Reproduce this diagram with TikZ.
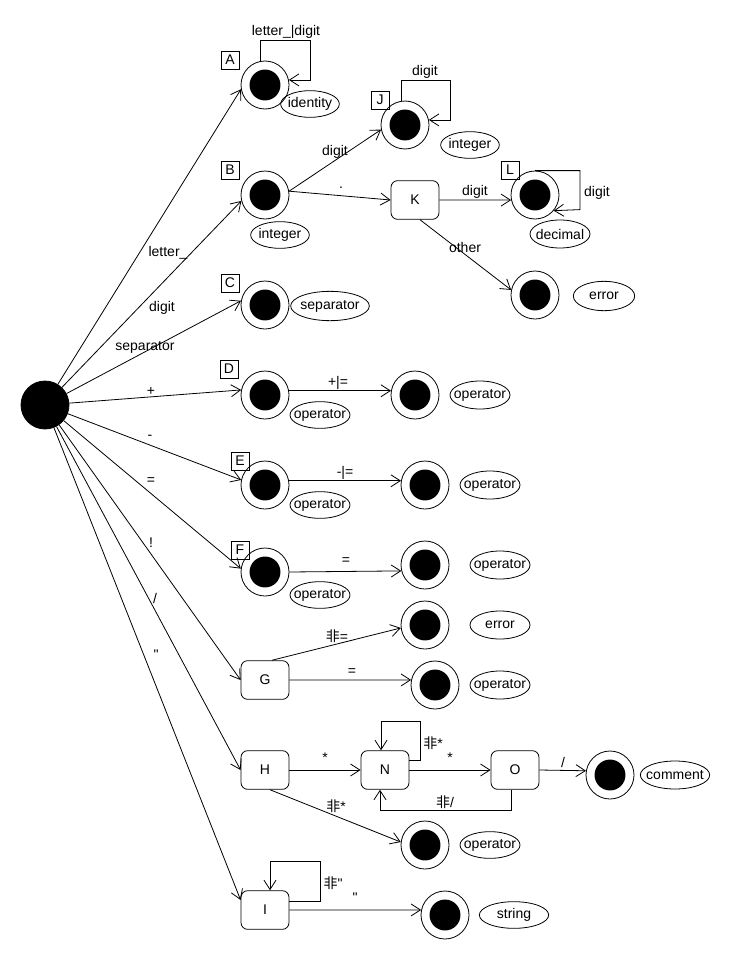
\documentclass[tikz,border=0pt]{standalone}
\usepackage{fontspec}
\setmainfont{Liberation Sans}[Ligatures=TeXOff]
\newfontfamily\cjk{Noto Sans CJK SC}
\usetikzlibrary{arrows.meta}
\usetikzlibrary{shapes.geometric}
\newcommand{\nt}[1]{\makebox[0pt]{#1}}
\newcommand{\fei}{{\cjk 非}}
\newcommand{\dq}{\symbol{34}}

\tikzset{
  start/.style={circle, fill=black, draw, inner sep=0pt, minimum size=36pt},
  final/.style={circle, draw, inner sep=0pt, minimum size=36pt,
    path picture={\fill[black] (path picture bounding box.center) circle (11.6pt);}},
  state/.style={draw, rounded corners=5pt, inner sep=0pt, minimum width=36pt, minimum height=29pt},
  tag/.style={draw, inner sep=0pt, minimum size=13.5pt},
  note/.style={ellipse, draw, inner sep=0pt, minimum width=45pt, minimum height=20pt},
  lbl/.style={inner sep=1pt},
  arr/.style={-{Straight Barb[length=7pt,width=9pt]}},
}

\begin{document}
\begin{tikzpicture}[x=0.75pt, y=-0.75pt, line width=0.6pt, font=\fontsize{10.5}{12}\selectfont]
      \useasboundingbox (0,0) rectangle (730,960);

      % start state
      \node[start] (s) at (45,405) {};

      % states
      \node[final] (A) at (265,85) {};
      \node[final] (B) at (265,195) {};
      \node[final] (C) at (265,305) {};
      \node[final] (D) at (265,395) {};
      \node[final] (E) at (265,485) {};
      \node[final] (F) at (265,572) {};
      \node[state] (G) at (265,680) {G};
      \node[state] (H) at (265,770) {H};
      \node[state] (I) at (265,910) {I};
      \node[final] (J) at (405,125) {};
      \node[state] (K) at (415,200) {K};
      \node[final] (L) at (535,195) {};
      \node[final] (err1) at (535,295) {};
      \node[final] (D2) at (415,395) {};
      \node[final] (E2) at (425,485) {};
      \node[final] (F2) at (425,565) {};
      \node[final] (err2) at (425,625) {};
      \node[final] (G2) at (435,685) {};
      \node[state] (N) at (385,770) {N};
      \node[state] (O) at (515,770) {O};
      \node[final] (cm) at (610,775) {};
      \node[final] (op3) at (425,845) {};
      \node[final] (str) at (445,915) {};

      % tags
      \node[tag] (tA) at (230,60) {A};
      \node[tag] (tB) at (230,170) {B};
      \node[tag] (tC) at (230,283) {C};
      \node[tag] (tD) at (229,369) {D};
      \node[tag] (tE) at (240,461) {E};
      \node[tag] (tF) at (240,550) {F};
      \node[tag] (tJ) at (380,100) {J};
      \node[tag] (tL) at (510,170) {L};

      % token notes
      \node[note, minimum width=44pt] (nA) at (310,104) {\nt{identity}};
      \node[note, minimum width=44pt] (nB) at (280,235) {\nt{integer}};
      \node[note, minimum width=59pt, minimum height=22pt] (nC) at (330,306) {\nt{separator}};
      \node[note, minimum width=44pt] (nJ) at (470,145) {\nt{integer}};
      \node[note, minimum width=45pt, minimum height=21pt] (nL) at (560,234) {\nt{decimal}};
      \node[note, minimum width=46pt, minimum height=22pt] (nerr1) at (604,296) {\nt{error}};
      \node[note] (nD) at (320,415) {\nt{operator}};
      \node[note, minimum height=21pt] (nD2) at (480,395) {\nt{operator}};
      \node[note] (nE) at (320,505) {\nt{operator}};
      \node[note, minimum height=21pt] (nE2) at (490,485) {\nt{operator}};
      \node[note] (nF) at (320,595) {\nt{operator}};
      \node[note, minimum height=21pt] (nF2) at (500,565) {\nt{operator}};
      \node[note, minimum height=21pt] (nerr2) at (500,625) {\nt{error}};
      \node[note, minimum height=21pt] (nG2) at (500,685) {\nt{operator}};
      \node[note, minimum width=52pt, minimum height=21pt] (ncm) at (675,775) {\nt{comment}};
      \node[note] (nop3) at (490,845) {\nt{operator}};
      \node[note, minimum width=52pt] (nstr) at (514,915) {\nt{string}};

      % edges from start
      \draw[arr] (s) -- (A.190);
      \draw[arr] (s) -- (B.194);
      \draw[arr] (s) -- (C.170);
      \draw[arr] (s) -- (D.168);
      \draw[arr] (s) -- (E.168);
      \draw[arr] (s) -- (F.172);
      \draw[arr] (s) -- (G.west);
      \draw[arr] (s) -- (H.west);
      \draw[arr] (s) -- ([yshift=7.5pt]I.west);
      \node[lbl] (l1) at (168,253) {letter\_};
      \node[lbl] (l2) at (162,308) {digit};
      \node[lbl] (l3) at (145,347) {separator};
      \node[lbl] (l4) at (151,391) {+};
      \node[lbl] (l5) at (150,437) {-};
      \node[lbl] (l6) at (151,481) {=};
      \node[lbl] (l7) at (151,543) {!};
      \node[lbl] (l8) at (155,598) {/};
      \node[lbl] (l9) at (156,655) {\dq};

      % identifier and numbers
      \draw[arr] ([xshift=-3.75pt]A.north) -- ++(0,-20) -- ++(50,0) |- (A.12);
      \node[lbl] (lA) at (286,32) {letter\_|digit};
      \draw[arr] (B.9) -- (J.191);
      \draw[arr] (B.9) -- (K.west);
      \node[lbl] (lBJ) at (335,152) {digit};
      \node[lbl] (lBK) at (341,188) {.};
      \draw[arr] ([xshift=-3pt]J.north) -- ++(0,-20) -- ++(49,0) |- (J.12);
      \node[lbl] (lJ) at (425,72) {digit};
      \draw[arr] (K.east) -- (L.192);
      \node[lbl] (lKL) at (475,192) {digit};
      \draw[arr] ([xshift=3.75pt]K.south) -- (err1.168);
      \node[lbl] (lKe) at (465,247) {other};
      \draw[arr] (L.north) -- ++(45,0) -- ++(0,39) -- (L.-40);
      \node[lbl] (lL) at (597,193) {digit};

      % operators
      \draw[arr] (D.10) -- (D2.170);
      \node[lbl] (lD) at (338,383) {+|=};
      \draw[arr] (E.10) -- (E2.170);
      \node[lbl] (lE) at (345,473) {-|=};
      \draw[arr] (F.0) -- (F2.194);
      \node[lbl] (lF) at (346,561) {=};
      \draw[arr] ([xshift=5.25pt]G.north) -- (err2.187);
      \node[lbl] (lGe) at (337,636) {\fei=};
      \draw[arr] (G.east) -- (G2.168);
      \node[lbl] (lG) at (352,672) {=};

      % comments
      \draw[arr] (H.east) -- (N.west);
      \node[lbl] (lHN) at (325,758) {*};
      \draw[arr] ([xshift=3.75pt]H.south) -- (op3.173);
      \node[lbl] (lHo) at (336,806) {\fei*};
      \draw[arr] ([yshift=7.5pt]N.east) -- ++(11,0) -- ++(0,-39) -| ([xshift=-3pt]N.north);
      \node[lbl] (lN) at (433,743) {\fei*};
      \draw[arr] (N.east) -- (O.west);
      \node[lbl] (lNO) at (450,758) {*};
      \draw[arr] ([xshift=-3pt]O.south) -- ++(0,21) -| ([xshift=-3.75pt]N.south);
      \node[lbl] (lON) at (445,802) {\fei/};
      \draw[arr] (O.east) -- (cm.170);
      \node[lbl] (lOc) at (563,762) {/};

      % strings
      \draw[arr] ([yshift=6.75pt]I.east) -- ++(31,0) -- ++(0,-40) -| ([xshift=3.75pt]I.north);
      \node[lbl] (lI) at (333,883) {\fei\dq};
      \draw[arr] (I.east) -- (str.168);
      \node[lbl] (lIs) at (355,898) {\dq};
    \end{tikzpicture}
\end{document}
